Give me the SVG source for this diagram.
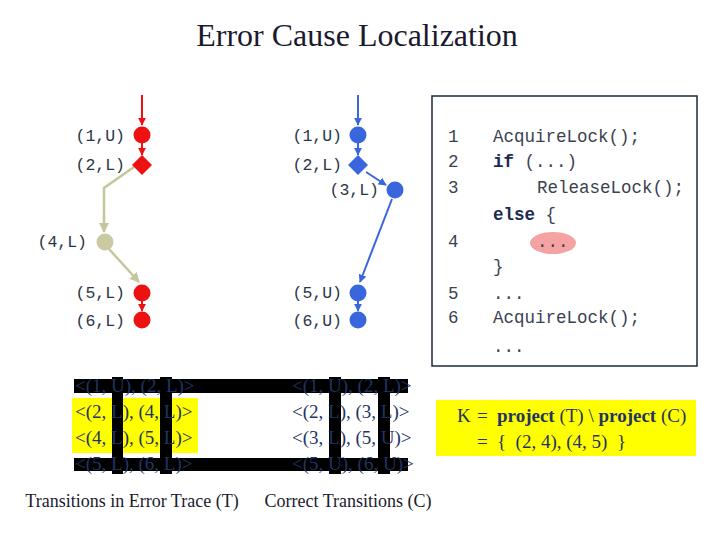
<svg xmlns="http://www.w3.org/2000/svg" width="720" height="540" viewBox="0 0 720 540">
<defs>
<style>
.t{font-family:"Liberation Serif",serif;}
.m{font-family:"Liberation Mono",monospace;font-size:16.5px;fill:#2a3648;}
.c{font-family:"Liberation Mono",monospace;font-size:17.5px;fill:#3a4250;}
.row{font-family:"Liberation Serif",serif;font-size:19px;fill:#1f3460;}
.pre{white-space:pre;}
.red{fill:#ee1111;}
.blue{fill:#3a66dd;}
.re{stroke:#ee1111;stroke-width:2;fill:none;}
.be{stroke:#3a66dd;stroke-width:2;fill:none;}
.ge{stroke:#c6c69c;stroke-width:2.5;fill:none;}
</style>
<marker id="ar" viewBox="0 0 10 10" refX="9" refY="5" markerWidth="4" markerHeight="4" orient="auto"><path d="M0,0L10,5L0,10z" fill="#ee1111"/></marker>
<marker id="ab" viewBox="0 0 10 10" refX="9" refY="5" markerWidth="4" markerHeight="4" orient="auto"><path d="M0,0L10,5L0,10z" fill="#3a66dd"/></marker>
<marker id="ag" viewBox="0 0 10 10" refX="9" refY="5" markerWidth="4" markerHeight="4" orient="auto"><path d="M0,0L10,5L0,10z" fill="#c6c69c"/></marker>
</defs>
<rect width="720" height="540" fill="#fff"/>
<text class="t" x="357" y="46" font-size="32" text-anchor="middle" fill="#1a1a2e">Error Cause Localization</text>

<g id="connectors">
<path class="re" d="M142,95V125" marker-end="url(#ar)"/>
<path class="re" d="M142,143V155" marker-end="url(#ar)"/>
<path class="ge" d="M134,167L104,188V232" marker-end="url(#ag)"/>
<path class="ge" d="M109,249L139,282" marker-end="url(#ag)"/>
<path class="re" d="M142,301V311" marker-end="url(#ar)"/>
<path class="be" d="M358,95V125" marker-end="url(#ab)"/>
<path class="be" d="M358,143V155" marker-end="url(#ab)"/>
<path class="be" d="M366,172L386,185" marker-end="url(#ab)"/>
<path class="be" d="M392,199L360,282" marker-end="url(#ab)"/>
<path class="be" d="M358,301V311" marker-end="url(#ab)"/>
</g>

<g id="t1"><circle class="red" cx="142" cy="135" r="8.5"/><text class="m" x="125" y="141" text-anchor="end">(1,U)</text></g>
<g id="t2"><path class="red" d="M142,155L152,165L142,175L132,165z"/><text class="m" x="125" y="170" text-anchor="end">(2,L)</text></g>
<g id="t4"><circle cx="105" cy="242" r="8.5" fill="#c9c9a2"/><text class="m" x="87" y="247" text-anchor="end">(4,L)</text></g>
<g id="t5"><circle class="red" cx="142" cy="293" r="8.5"/><text class="m" x="125" y="298" text-anchor="end">(5,L)</text></g>
<g id="t6"><circle class="red" cx="142" cy="320" r="8.5"/><text class="m" x="125" y="326" text-anchor="end">(6,L)</text></g>

<g id="c1"><circle class="blue" cx="358" cy="135" r="8.5"/><text class="m" x="342" y="141" text-anchor="end">(1,U)</text></g>
<g id="c2"><path class="blue" d="M358,155L368,165L358,175L348,165z"/><text class="m" x="342" y="170" text-anchor="end">(2,L)</text></g>
<g id="c3"><circle class="blue" cx="395" cy="190" r="8.5"/><text class="m" x="379" y="195" text-anchor="end">(3,L)</text></g>
<g id="c5"><circle class="blue" cx="358" cy="293" r="8.5"/><text class="m" x="342" y="298" text-anchor="end">(5,U)</text></g>
<g id="c6"><circle class="blue" cx="358" cy="320" r="8.5"/><text class="m" x="342" y="326" text-anchor="end">(6,U)</text></g>

<g id="code">
<rect x="432" y="96" width="265" height="270" fill="#fff" stroke="#1a2a3a" stroke-width="1.5"/>
<ellipse cx="553" cy="243" rx="23" ry="11" fill="#f4a2a2"/>
<g class="c">
<text x="448" y="142">1</text><text x="493" y="142">AcquireLock();</text>
<text x="448" y="167">2</text><text x="493" y="167"><tspan font-weight="bold" fill="#1a2a50">if</tspan> (...)</text>
<text x="448" y="193">3</text><text x="537" y="193">ReleaseLock();</text>
<text x="493" y="220" font-weight="bold" fill="#1a2a50">else <tspan font-weight="normal" fill="#3a4250">{</tspan></text>
<text x="448" y="247">4</text><text x="537" y="247">...</text>
<text x="493" y="272">}</text>
<text x="448" y="299">5</text><text x="493" y="299">...</text>
<text x="448" y="323">6</text><text x="493" y="323">AcquireLock();</text>
<text x="493" y="352">...</text>
</g>
</g>

<g id="trace">
<rect x="72" y="398" width="126" height="55" fill="#ffff00"/>
<rect x="74" y="379" width="334" height="14" fill="#000"/>
<rect x="74" y="458" width="334" height="13" fill="#000"/>
<rect x="112" y="377" width="11" height="97" fill="#000"/>
<rect x="160" y="377" width="12" height="97" fill="#000"/>
<rect x="329" y="377" width="12" height="97" fill="#000"/>
<rect x="378" y="377" width="12" height="97" fill="#000"/>
<text class="row" x="75" y="392">&lt;(1, U), (2, L)&gt;</text>
<text class="row" x="75" y="418">&lt;(2, L), (4, L)&gt;</text>
<text class="row" x="75" y="444">&lt;(4, L), (5, L)&gt;</text>
<text class="row" x="75" y="470">&lt;(5, L), (6, L)&gt;</text>
<text class="row" x="292" y="392">&lt;(1, U), (2, L)&gt;</text>
<text class="row" x="292" y="418">&lt;(2, L), (3, L)&gt;</text>
<text class="row" x="292" y="444">&lt;(3, L), (5, U)&gt;</text>
<text class="row" x="292" y="470">&lt;(5, U), (6, U)&gt;</text>
<text class="t" x="132" y="507" font-size="18" text-anchor="middle" fill="#1a1a2e">Transitions in Error Trace (T)</text>
<text class="t" x="348" y="507" font-size="18" text-anchor="middle" fill="#1a1a2e">Correct Transitions (C)</text>
</g>

<g id="k">
<rect x="436" y="400" width="260" height="56" fill="#ffff00"/>
<text class="row pre" y="422" font-size="18"><tspan x="457">K</tspan><tspan x="477">=</tspan><tspan x="497" font-weight="bold">project</tspan> (T) \ <tspan font-weight="bold">project</tspan> (C)</text>
<text class="row pre" y="448" font-size="18"><tspan x="477">=</tspan><tspan x="497">{  (2, 4), (4, 5)  }</tspan></text>
</g>
</svg>
